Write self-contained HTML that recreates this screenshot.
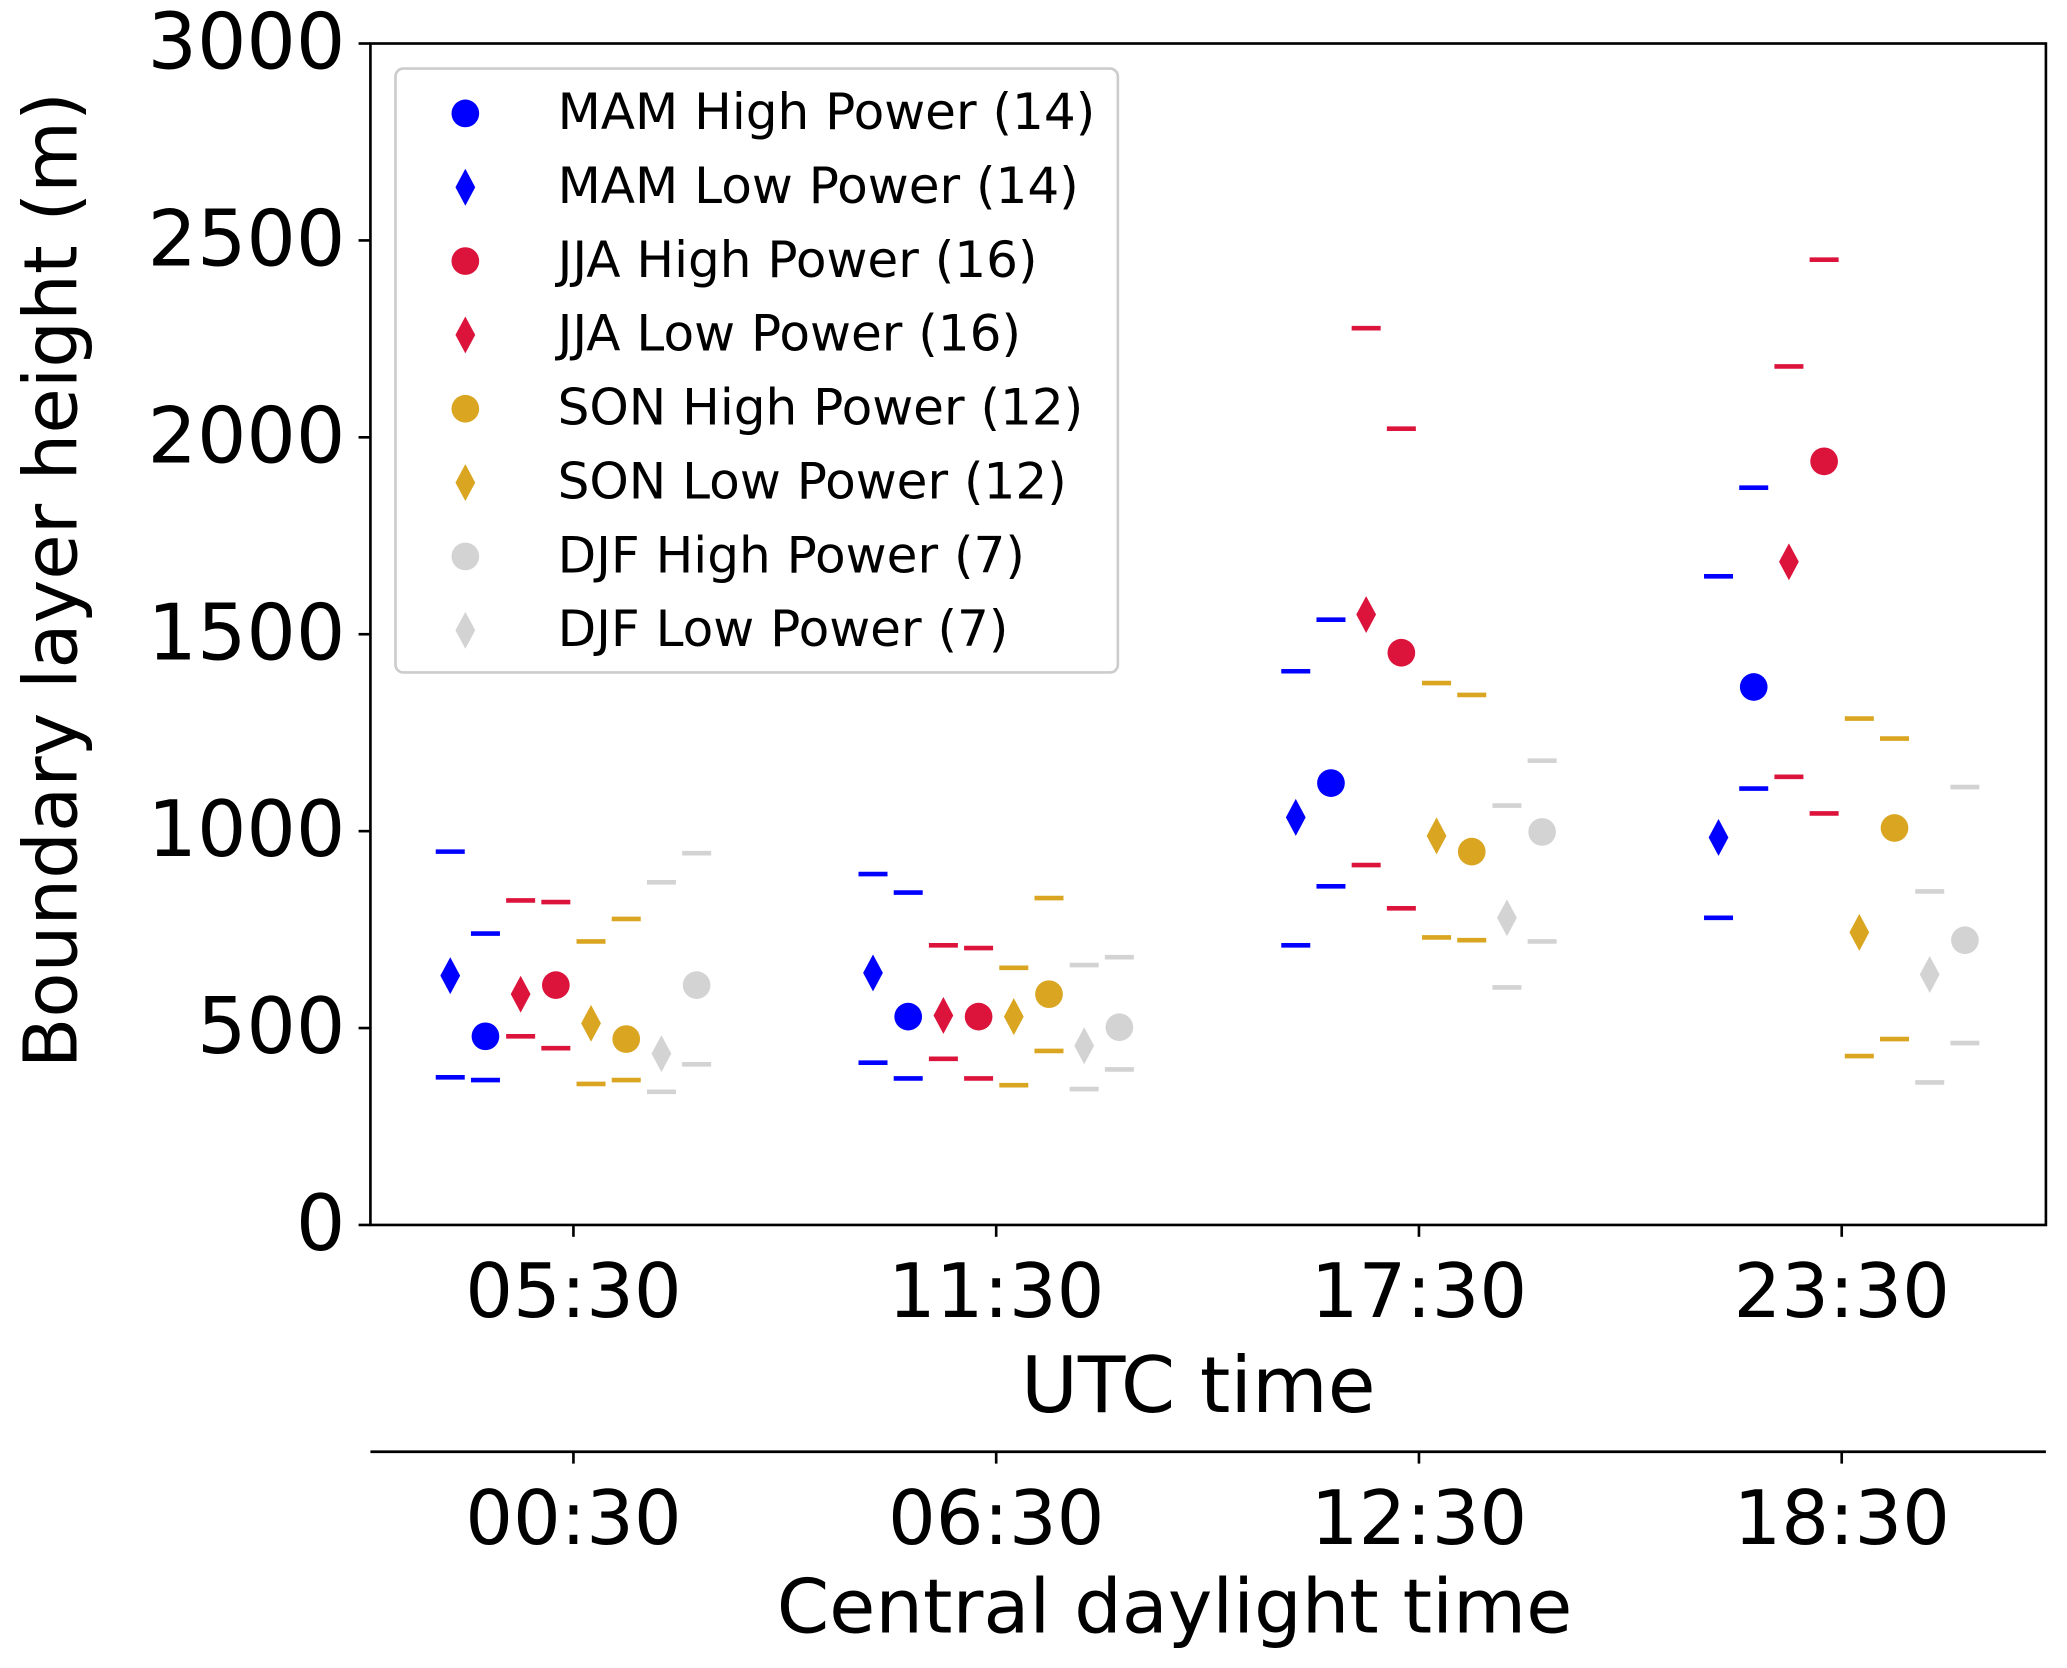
<!DOCTYPE html>
<html><head><meta charset="utf-8"><style>
html,body{margin:0;padding:0;background:#fff;}
svg{display:block;font-family:"DejaVu Sans","Liberation Sans",sans-serif;}
</style></head><body>
<svg id="chart" width="2067" height="1668" viewBox="0 0 1568 1265" preserveAspectRatio="none" xmlns="http://www.w3.org/2000/svg">
<rect x="0" y="0" width="1568" height="1265" fill="#fff"/>
<g id="plot"></g>
</svg>
<script>
const categories = ["05:30","11:30","17:30","23:30"];
const localLabels = ["00:30","06:30","12:30","18:30"];
const seriesNames = ["MAM Low Power (14)","MAM High Power (14)","JJA Low Power (16)","JJA High Power (16)","SON Low Power (12)","SON High Power (12)","DJF Low Power (7)","DJF High Power (7)"];
const seriesColors = ["#0000ff","#0000ff","#dc143c","#dc143c","#daa520","#daa520","#d3d3d3","#d3d3d3"];
const seriesShapes = ["diamond","circle","diamond","circle","diamond","circle","diamond","circle"];
const centerValues = [
 [633,640,1035,984],[479,529,1122,1366],[586,532,1550,1684],[609,529,1453,1939],
 [512,529,988,743],[472,586,948,1008],[435,455,780,636],[609,502,998,723]];
const upperValues = [
 [948,891,1406,1647],[740,844,1537,1872],[824,710,2277,2180],[820,703,2022,2451],
 [720,653,1376,1286],[777,830,1346,1235],[870,660,1065,847],[944,680,1179,1112]];
const lowerValues = [
 [375,412,710,780],[368,372,860,1108],[479,422,914,1138],[449,372,804,1045],
 [358,355,730,429],[368,442,723,472],[338,345,603,362],[408,395,720,462]];
const yTicks = [0,500,1000,1500,2000,2500,3000];
const legendOrder = [1,0,3,2,5,4,7,6];

const NS="http://www.w3.org/2000/svg";
const L=281,R=1552,T=33,B=929;
const yScale=v=>B-(v/3000)*(B-T);
const xCenter=i=>435+i*320.7;
const xPos=(i,s)=>xCenter(i)+(s-3.5)*26.7;
const g=document.getElementById('plot');
function mk(tag,attrs,parent){const e=document.createElementNS(NS,tag);for(const k in attrs)e.setAttribute(k,attrs[k]);(parent||g).appendChild(e);return e;}
function marker(shape,x,y,c,parent,name){
  let e;
  if(shape==='circle') e=mk('circle',{cx:x,cy:y,r:10.5,fill:c},parent);
  else e=mk('polygon',{points:`${x},${y-14} ${x+7.5},${y} ${x},${y+14} ${x-7.5},${y}`,fill:c},parent);
  
  
  return e;
}
const frame=mk('rect',{x:L,y:T,width:R-L,height:B-T,fill:'none',stroke:'#000','stroke-width':2});


yTicks.forEach(v=>{
  const y=yScale(v);
  const t=mk('line',{x1:L-9,x2:L,y1:y,y2:y,stroke:'#000','stroke-width':2});
  
  
  const tx=mk('text',{x:L-19,y:y+19,'text-anchor':'end','font-size':59});
  tx.textContent=v;
  
  
});
categories.forEach((c,i)=>{
  const x=xCenter(i);
  const t=mk('line',{x1:x,x2:x,y1:B,y2:B+9,stroke:'#000','stroke-width':2});
  
  
  const tx=mk('text',{x:x,y:999,'text-anchor':'middle','font-size':57});
  tx.textContent=c;
  
  
  const t2=mk('line',{x1:x,x2:x,y1:1101,y2:1110,stroke:'#000','stroke-width':2});
  
  
  const tx2=mk('text',{x:x,y:1171,'text-anchor':'middle','font-size':57});
  tx2.textContent=localLabels[i];
  
  
});
const ax2=mk('line',{x1:L,x2:R,y1:1101,y2:1101,stroke:'#000','stroke-width':2});


const xt=mk('text',{x:909,y:1071,'text-anchor':'middle','font-size':59});
xt.textContent='UTC time';


const xt2=mk('text',{x:891,y:1238,'text-anchor':'middle','font-size':57});
xt2.textContent='Central daylight time';


const yt=mk('text',{x:0,y:0,'text-anchor':'middle','font-size':56,transform:'translate(58,440) rotate(-90)'});
yt.textContent='Boundary layer height (m)';


seriesNames.forEach((n,s)=>{
  categories.forEach((c,i)=>{
    const x=xPos(i,s);
    [upperValues[s][i],lowerValues[s][i]].forEach(v=>{
      const d=mk('line',{x1:x-11,x2:x+11,y1:yScale(v),y2:yScale(v),stroke:seriesColors[s],'stroke-width':3.5});
      
      
    });
    marker(seriesShapes[s],x,yScale(centerValues[s][i]),seriesColors[s],g,'data-point');
  });
});
const lg=mk('g',{});


mk('rect',{x:300,y:52,width:548,height:458,rx:6,fill:'#fff','fill-opacity':0.85,stroke:'#ccc','stroke-width':2},lg);
legendOrder.forEach((s,k)=>{
  const y=86+k*56;
  marker(seriesShapes[s],353,y,seriesColors[s],lg,'legend-marker');
  const t=mk('text',{x:423,y:y+12,'font-size':38},lg);
  t.textContent=seriesNames[s];
  
  
});
</script>
</body></html>
